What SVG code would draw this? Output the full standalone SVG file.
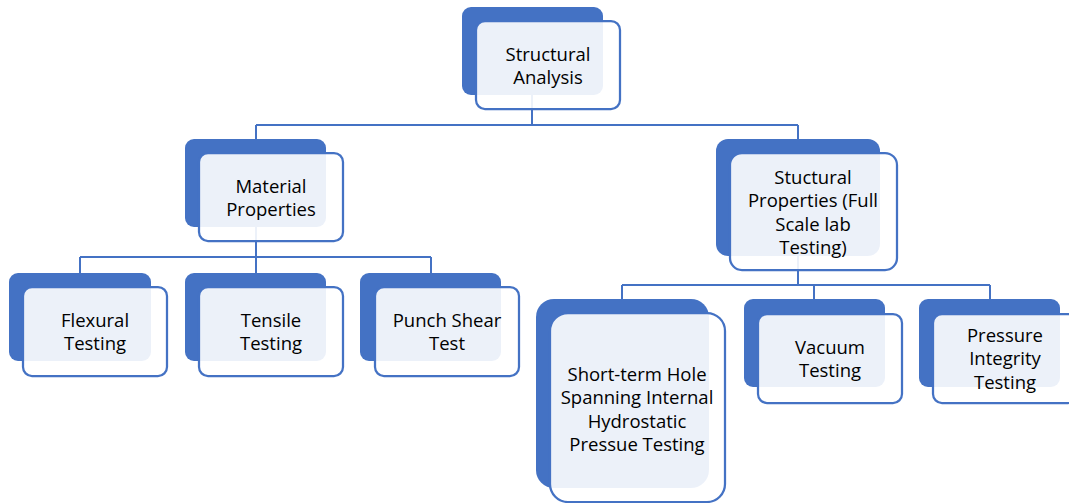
<svg xmlns="http://www.w3.org/2000/svg" width="1069" height="503" viewBox="0 0 1069 503">
<style>
.bk{fill:#4472C4}
.fr{fill:#ffffff;fill-opacity:0.9;stroke:#4472C4;stroke-width:2.25}
.cn{fill:none;stroke:#4472C4;stroke-width:2}
text{font-family:"Open Sans","Liberation Sans",sans-serif;font-size:18.5px;fill:#000;text-anchor:middle}
</style>
<rect width="1069" height="503" fill="#ffffff"/>
<g id="connectors">
<path class="cn" d="M532,95 V125 M256,125 H798 M256,125 V139 M798,125 V139"/>
<path class="cn" d="M256,227 V257 M80,257 H431 M80,257 V273 M256,257 V273 M431,257 V273"/>
<path class="cn" d="M798,256 V285 M622,285 H990 M622,285 V299 M814,285 V299 M990,285 V299"/>
</g>
<g id="n-structural-analysis">
<rect class="bk" x="462" y="7" width="141" height="88" rx="9"/>
<rect class="fr" x="476" y="21" width="144" height="88" rx="9"/>
<text x="548" y="60.5">Structural</text>
<text x="548" y="84">Analysis</text>
</g>
<g id="n-material-properties">
<rect class="bk" x="185" y="139" width="141" height="88" rx="9"/>
<rect class="fr" x="199" y="153" width="144" height="88" rx="9"/>
<text x="271" y="192.5">Material</text>
<text x="271" y="216">Properties</text>
</g>
<g id="n-structural-properties">
<rect class="bk" x="716" y="139" width="164" height="117" rx="12"/>
<rect class="fr" x="730" y="153" width="167" height="117" rx="12"/>
<text x="813" y="183.5">Stuctural</text>
<text x="813" y="207">Properties (Full</text>
<text x="813" y="230.5">Scale lab</text>
<text x="813" y="254">Testing)</text>
</g>
<g id="n-flexural">
<rect class="bk" x="9" y="273" width="142" height="88" rx="9"/>
<rect class="fr" x="23" y="287" width="144" height="89" rx="9"/>
<text x="95" y="326.5">Flexural</text>
<text x="95" y="350">Testing</text>
</g>
<g id="n-tensile">
<rect class="bk" x="185" y="273" width="141" height="88" rx="9"/>
<rect class="fr" x="199" y="287" width="144" height="89" rx="9"/>
<text x="271" y="326.5">Tensile</text>
<text x="271" y="350">Testing</text>
</g>
<g id="n-punch-shear">
<rect class="bk" x="360" y="273" width="141" height="88" rx="9"/>
<rect class="fr" x="375" y="287" width="144" height="89" rx="9"/>
<text x="447" y="326.5">Punch Shear</text>
<text x="447" y="350">Test</text>
</g>
<g id="n-short-term">
<rect class="bk" x="536" y="299" width="173" height="189" rx="18"/>
<rect class="fr" x="550" y="313" width="175" height="189" rx="18"/>
<text x="637" y="380.5">Short-term Hole</text>
<text x="637" y="404">Spanning Internal</text>
<text x="637" y="427.5">Hydrostatic</text>
<text x="637" y="451">Pressue Testing</text>
</g>
<g id="n-vacuum">
<rect class="bk" x="744" y="299" width="141" height="88" rx="9"/>
<rect class="fr" x="758" y="314" width="144" height="89" rx="9"/>
<text x="830" y="353.5">Vacuum</text>
<text x="830" y="377">Testing</text>
</g>
<g id="n-pressure-integrity">
<rect class="bk" x="919" y="299" width="141" height="88" rx="9"/>
<rect class="fr" x="933" y="314" width="144" height="89" rx="9"/>
<text x="1005" y="341.5">Pressure</text>
<text x="1005" y="365">Integrity</text>
<text x="1005" y="388.5">Testing</text>
</g>
</svg>
